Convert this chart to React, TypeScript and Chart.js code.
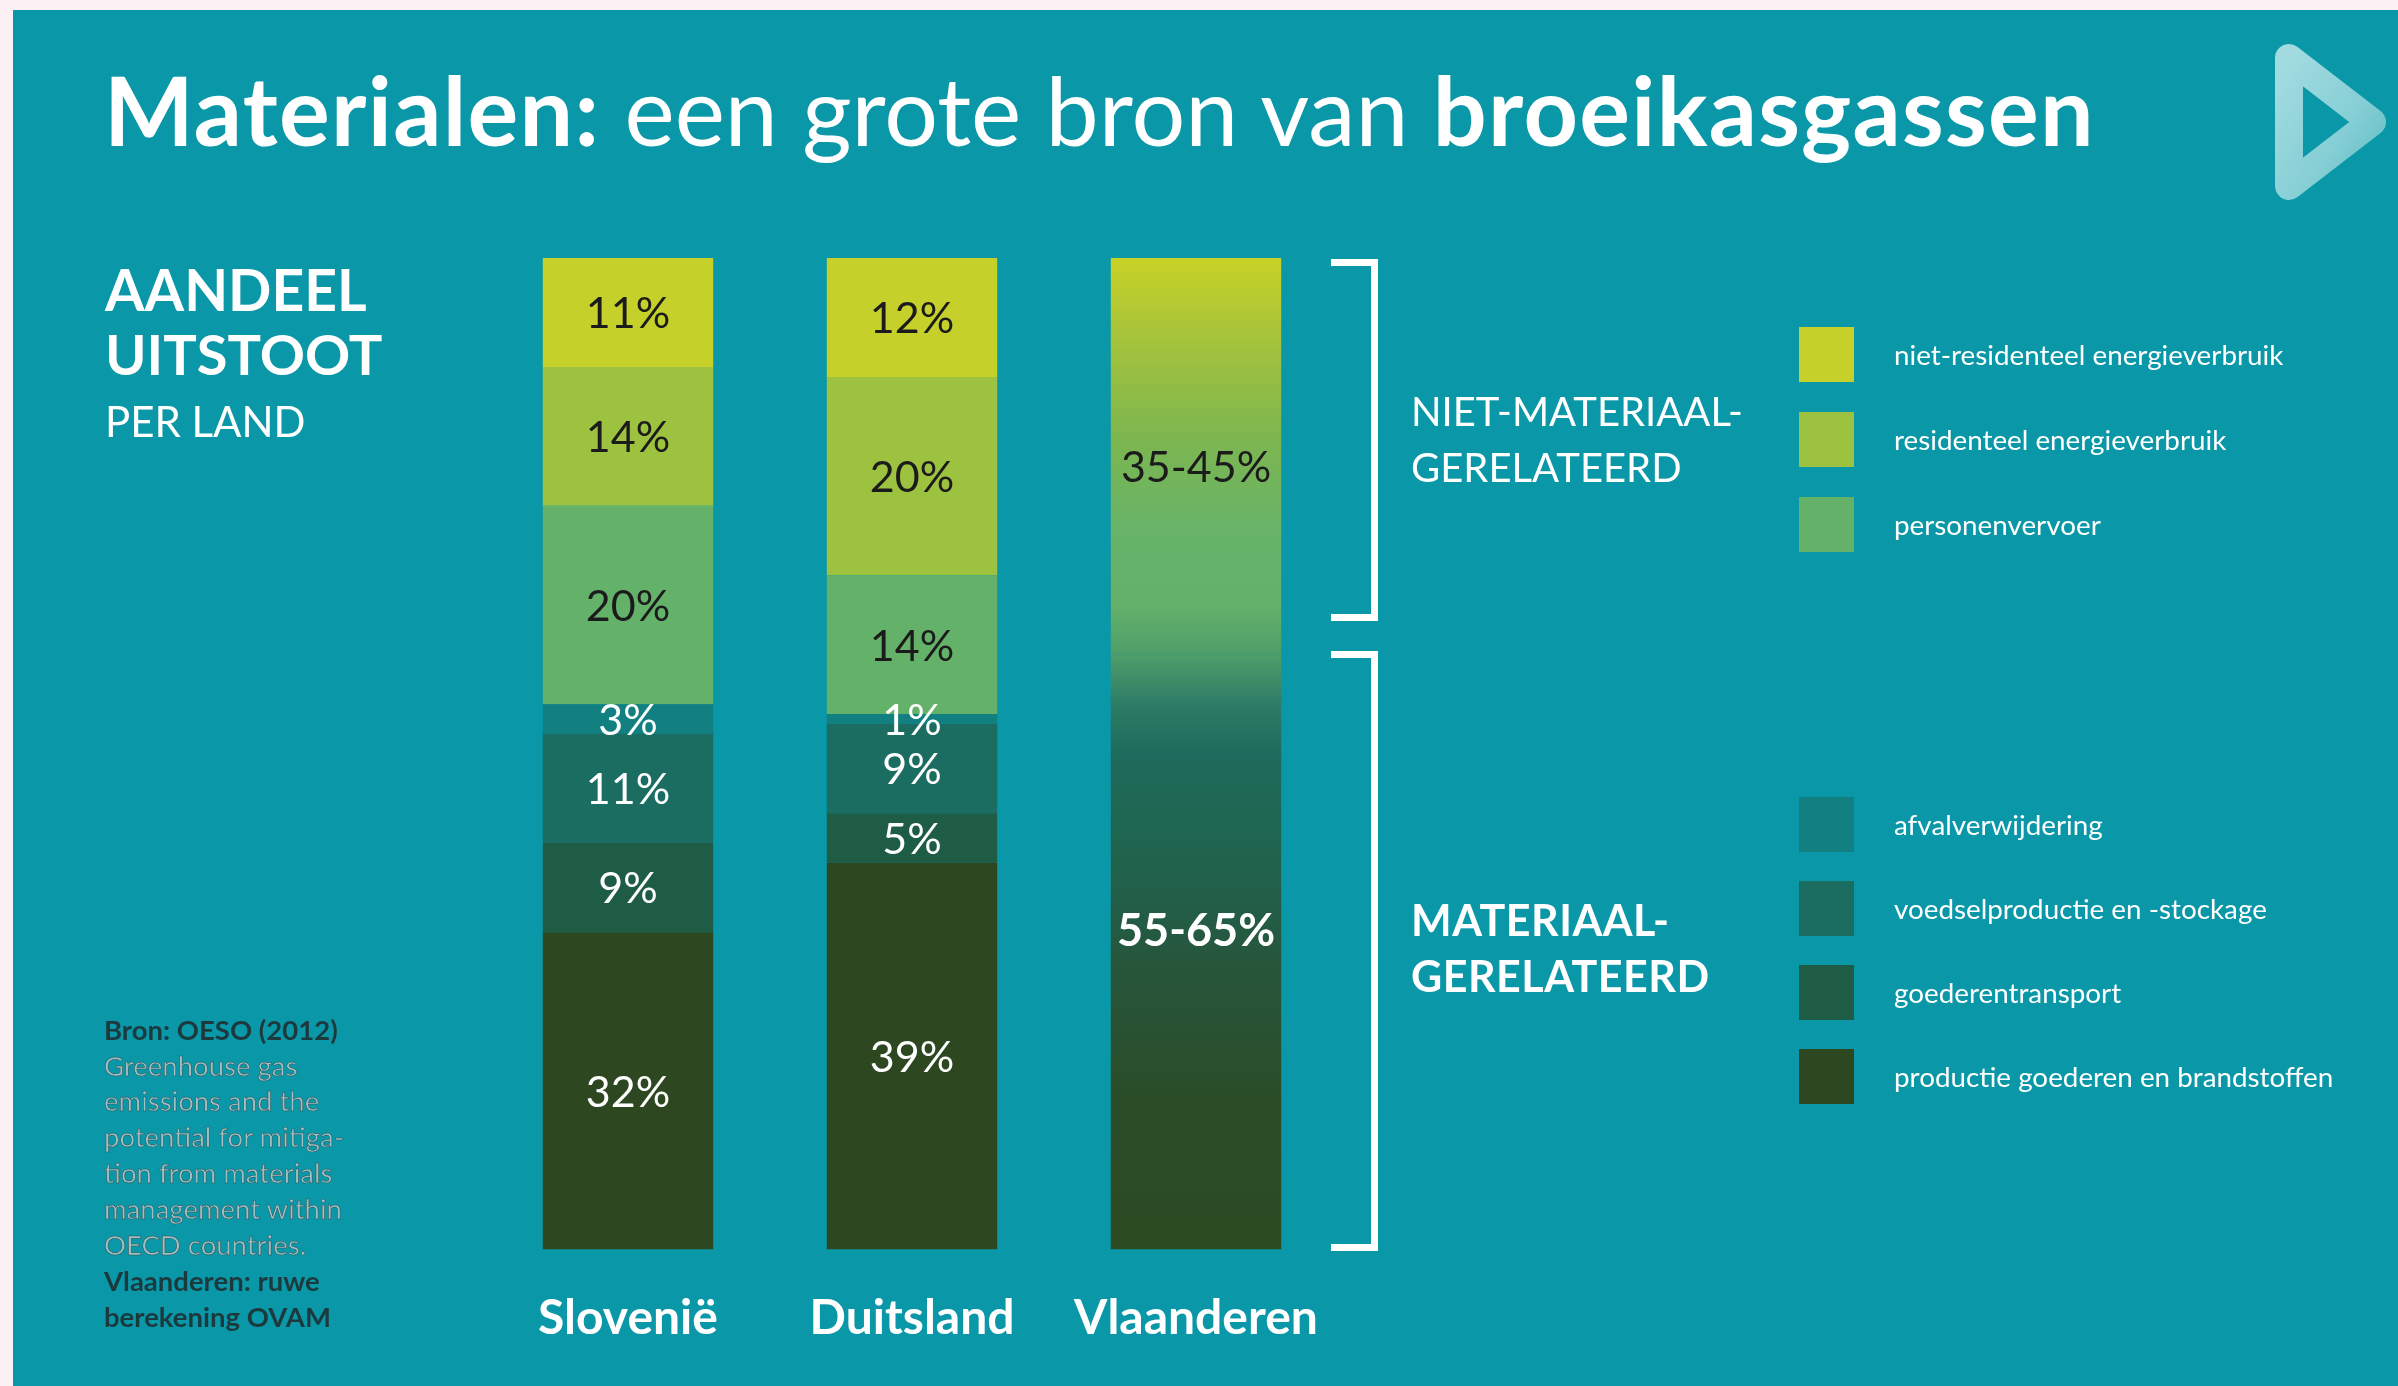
import React, { useEffect, useRef } from "react";
import { Chart, registerables } from "chart.js";

Chart.register(...registerables);

// ---------- DATA ----------
const categories = ["Slovenië", "Duitsland", "Vlaanderen"];

// series, bottom of the stack first
const seriesNames = [
  "productie goederen en brandstoffen",
  "goederentransport",
  "voedselproductie en -stockage",
  "afvalverwijdering",
  "personenvervoer",
  "residenteel energieverbruik",
  "niet-residenteel energieverbruik",
];
const seriesColors = ["#2d4820", "#1f5c46", "#1a6d60", "#127f80", "#64b26a", "#9dc23f", "#c6d02a"];
const darkLabelSeries = [false, false, false, false, true, true, true];

const sloveniaValues = [32, 9, 11, 3, 20, 14, 11];
const germanyValues = [39, 5, 9, 1, 14, 20, 12];

// Vlaanderen: rough estimate, bottom first
const flandersGroups = ["MATERIAAL-GERELATEERD", "NIET-MATERIAAL-GERELATEERD"];
const flandersValues = [60, 40];
const flandersLabels = ["55-65%", "35-45%"];

// legend groups (indices into seriesNames, top to bottom)
const legendNonMaterial = [6, 5, 4];
const legendMaterial = [3, 2, 1, 0];

const titleParts = [
  { text: "Materialen:", bold: true },
  { text: " een grote bron van ", bold: false },
  { text: "broeikasgassen", bold: true },
];
const sourceLines = [
  { text: "Bron: OESO (2012)", strong: true },
  { text: "Greenhouse gas", strong: false },
  { text: "emissions and the", strong: false },
  { text: "potential for mitiga-", strong: false },
  { text: "tion from materials", strong: false },
  { text: "management within", strong: false },
  { text: "OECD countries.", strong: false },
  { text: "Vlaanderen: ruwe", strong: true },
  { text: "berekening OVAM", strong: true },
];

// ---------- STYLE ----------
const FONT = "Lato, 'Open Sans', sans-serif";
const BG = "#0a97a8";
const flandersStops: [number, string][] = [
  [0, "#c8d226"],
  [0.08, "#a6c33b"],
  [0.18, "#7db64f"],
  [0.28, "#66b36a"],
  [0.35, "#64b16a"],
  [0.40, "#4f9e6a"],
  [0.45, "#2e7c66"],
  [0.50, "#1e6a5c"],
  [0.58, "#1f6650"],
  [0.65, "#225e48"],
  [0.72, "#27553a"],
  [0.85, "#2a4d28"],
  [1, "#2c4a22"],
];

const flandersGradient = (c: any) => {
  const chart = c.chart;
  if (!chart.chartArea) return flandersStops[0][1];
  const ys = chart.scales.y;
  const g = chart.ctx.createLinearGradient(0, ys.getPixelForValue(100), 0, ys.getPixelForValue(0));
  flandersStops.forEach(([o, col]) => g.addColorStop(o, col));
  return g;
};

const segmentLabels = {
  id: "segmentLabels",
  afterDatasetsDraw(chart: any) {
    const { ctx } = chart;
    ctx.save();
    ctx.textAlign = "center";
    ctx.textBaseline = "middle";
    chart.data.datasets.forEach((ds: any, di: number) => {
      const meta = chart.getDatasetMeta(di);
      meta.data.forEach((el: any, i: number) => {
        const v = ds.data[i];
        if (v == null) return;
        const p = el.getProps(["x", "y", "base"], true);
        const text = ds.valueLabels ? ds.valueLabels[i] : `${v}%`;
        if (!text) return;
        ctx.font = ds.labelFont;
        ctx.fillStyle = ds.labelColor;
        ctx.fillText(text, p.x, (p.y + p.base) / 2 + 2 + (ds.labelShift || 0));
      });
    });
    ctx.restore();
  },
};

function BarChart() {
  const ref = useRef<HTMLCanvasElement | null>(null);
  useEffect(() => {
    if (!ref.current) return;
    const datasets: any[] = seriesNames.map((name, i) => ({
      label: name,
      data: [sloveniaValues[i], germanyValues[i], null],
      backgroundColor: seriesColors[i],
      borderWidth: 0,
      stack: "s",
      labelColor: darkLabelSeries[i] ? "#1b1b1b" : "#ffffff",
      labelFont: `400 43px ${FONT}`,
    }));
    flandersValues.forEach((v, i) => {
      datasets.push({
        label: flandersGroups[i],
        data: [null, null, v],
        valueLabels: [null, null, flandersLabels[i]],
        backgroundColor: flandersGradient,
        borderWidth: 0,
        stack: "s",
        labelColor: i === 0 ? "#ffffff" : "#1b1b1b",
        labelFont: i === 0 ? `700 45px ${FONT}` : `400 43px ${FONT}`,
        labelShift: i === 0 ? -22 : 10,
      });
    });
    const chart = new Chart(ref.current, {
      type: "bar",
      data: { labels: categories, datasets },
      options: {
        animation: false,
        responsive: false,
        maintainAspectRatio: false,
        devicePixelRatio: 1,
        layout: { padding: { left: 486, right: 1060, top: 258, bottom: 63 } },
        datasets: { bar: { categoryPercentage: 0.6, barPercentage: 1 } },
        scales: {
          x: {
            stacked: true,
            grid: { display: false, drawTicks: false },
            border: { display: false },
            ticks: { color: "#ffffff", padding: 40, font: { family: FONT, size: 48, weight: "bold" } },
          },
          y: { stacked: true, display: false, min: 0, max: 100 },
        },
        plugins: { legend: { display: false }, tooltip: { enabled: false } },
      },
      plugins: [segmentLabels],
    });
    return () => chart.destroy();
  }, []);
  return (
    <canvas
      ref={ref}
      width={2398}
      height={1450}
      style={{ position: "absolute", left: 0, top: 0, width: 2398, height: 1450 }}
    />
  );
}

const txt = (left: number, baseline: number, size: number, extra: any = {}) => ({
  position: "absolute" as const,
  left,
  top: baseline - 0.887 * size,
  fontSize: size,
  lineHeight: 1,
  whiteSpace: "nowrap" as const,
  fontFamily: FONT,
  color: "#ffffff",
  ...extra,
});

export default function App() {
  const legendRow = (idx: number, center: number) => (
    <div key={idx} style={{ position: "absolute", left: 1799, top: center - 27, height: 55, display: "flex", alignItems: "center" }}>
      <div style={{ width: 55, height: 55, background: seriesColors[idx] }} />
      <div style={{ marginLeft: 40, color: "#fff", fontFamily: FONT, fontSize: 27.8, whiteSpace: "nowrap" }}>{seriesNames[idx]}</div>
    </div>
  );
  return (
    <div style={{ position: "fixed", left: 0, top: 0, width: 2398, height: 1386, overflow: "hidden", background: "#fdf0f5" }}>
      <div style={{ position: "absolute", left: 13, top: 10, right: 0, bottom: 0, background: BG }} />
      <BarChart />

      <div style={txt(104, 146, 95)}>
        {titleParts.map((p, i) => (
          <span key={i} style={{ fontWeight: p.bold ? 700 : 400, whiteSpace: "pre", letterSpacing: p.bold ? 1.3 : 0 }}>{p.text}</span>
        ))}
      </div>

      <svg style={{ position: "absolute", left: 0, top: 0 }} width={2398} height={260}>
        <defs>
          <linearGradient id="lg" x1="0" y1="0" x2="1" y2="1">
            <stop offset="0" stopColor="#b2e3e6" />
            <stop offset="0.6" stopColor="#94d5da" />
            <stop offset="1" stopColor="#6fc4ca" />
          </linearGradient>
        </defs>
        <polygon points="2289,58 2372,122 2289,186" fill="none" stroke="url(#lg)" strokeWidth={28} strokeLinejoin="round" opacity={0.9} />
      </svg>

      <div style={txt(105, 312, 57, { fontWeight: 700 })}>AANDEEL</div>
      <div style={txt(105, 376, 56, { fontWeight: 700 })}>UITSTOOT</div>
      <div style={txt(105, 437, 42, { fontWeight: 400 })}>PER LAND</div>

      {sourceLines.map((l, i) => (
        <div
          key={i}
          style={txt(104, 1040 + i * 35.9, 27.5, l.strong
            ? { color: "#1c3a3e", fontWeight: 700 }
            : { color: "#a3bfc1", fontWeight: 400, WebkitTextStroke: "0.5px #2b5055" })}
        >
          {l.text}
        </div>
      ))}

      {/* brackets */}
      <div style={{ position: "absolute", left: 1331, top: 259, width: 47, height: 362, boxSizing: "border-box", border: "7px solid #fff", borderLeft: "none" }} />
      <div style={{ position: "absolute", left: 1331, top: 651, width: 47, height: 600, boxSizing: "border-box", border: "7px solid #fff", borderLeft: "none" }} />

      <div style={txt(1411, 426, 40, { fontWeight: 400 })}>NIET-MATERIAAL-</div>
      <div style={txt(1411, 482, 40, { fontWeight: 400 })}>GERELATEERD</div>
      <div style={txt(1411, 936, 43, { fontWeight: 700, letterSpacing: 0.5 })}>MATERIAAL-</div>
      <div style={txt(1411, 992, 43, { fontWeight: 700, letterSpacing: 0.5 })}>GERELATEERD</div>

      {legendNonMaterial.map((idx, k) => legendRow(idx, 354 + k * 85))}
      {legendMaterial.map((idx, k) => legendRow(idx, 824 + k * 84))}
    </div>
  );
}
